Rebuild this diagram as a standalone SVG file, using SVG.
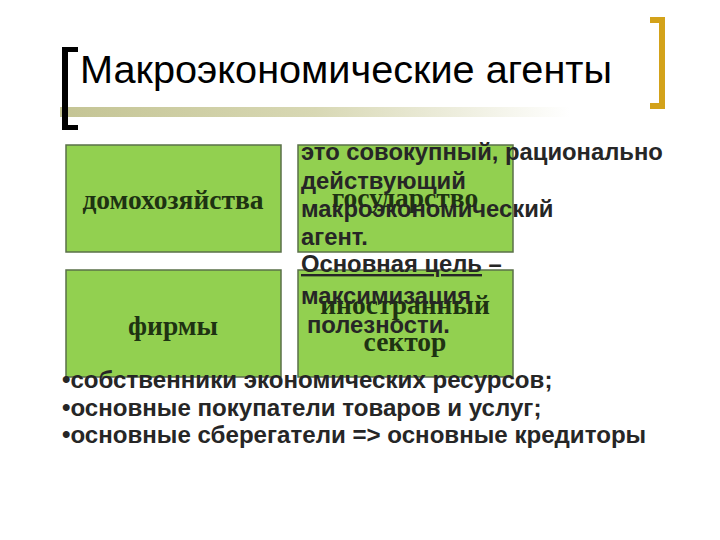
<svg xmlns="http://www.w3.org/2000/svg" width="720" height="540" viewBox="0 0 720 540">
<defs>
<linearGradient id="bar" x1="0" y1="0" x2="1" y2="0">
<stop offset="0" stop-color="#c4c494"/>
<stop offset="0.5" stop-color="#d8d8b4"/>
<stop offset="1" stop-color="#ffffff"/>
</linearGradient>
<style>
.box{fill:#92d050;stroke:#5a7048;stroke-width:1.5}
.bt{font-family:"Liberation Serif","Times New Roman",serif;font-weight:bold;font-size:27.5px;fill:#1e3312;text-anchor:middle}
.ov{font-family:"Liberation Sans",Arial,sans-serif;font-weight:bold;font-size:23.8px;fill:#262626}
.bl{font-family:"Liberation Sans",Arial,sans-serif;font-weight:bold;font-size:24.1px;fill:#262626}
</style>
</defs>
<rect width="720" height="540" fill="#ffffff"/>
<rect x="60" y="107" width="510" height="10" fill="url(#bar)"/>
<path d="M78,47 H62 V130 H78 V125 H68 V52 H78 Z" fill="#000000"/>
<path d="M650,17 H665 V109 H650 V103 H659 V23 H650 Z" fill="#d3a21a"/>
<text x="80" y="83" font-family="'Liberation Sans',Arial,sans-serif" font-size="38px" textLength="532" lengthAdjust="spacingAndGlyphs" fill="#000000">Макроэкономические агенты</text>
<g id="node-households"><rect class="box" x="66" y="145" width="215" height="107"/><text class="bt" x="173" y="209">домохозяйства</text></g>
<g id="node-state"><rect class="box" x="298" y="145" width="215" height="107"/><text class="bt" x="405" y="207">государство</text></g>
<g id="node-firms"><rect class="box" x="66" y="270" width="215" height="107"/><text class="bt" x="173" y="335">фирмы</text></g>
<g id="node-foreign"><rect class="box" x="298" y="270" width="215" height="107"/><text class="bt" x="405" y="314">иностранный</text><text class="bt" x="405" y="351">сектор</text></g>
<g id="connectors"></g>
<g id="overlay">
<text class="ov" x="301" y="160">это совокупный, рационально</text>
<text class="ov" x="301" y="189">действующий</text>
<text class="ov" x="301" y="217">макроэкономический</text>
<text class="ov" x="301" y="245">агент.</text>
<text class="ov" x="301" y="272"><tspan text-decoration="underline">Основная цель</tspan> –</text>
<text class="ov" x="301" y="304">максимизация</text>
<text class="ov" x="307" y="333">полезности.</text>
</g>
<g id="bullets">
<text class="bl" x="62" y="388">•собственники экономических ресурсов;</text>
<text class="bl" x="62" y="416">•основные покупатели товаров и услуг;</text>
<text class="bl" x="62" y="443">•основные сберегатели =&gt; основные кредиторы</text>
</g>
</svg>
